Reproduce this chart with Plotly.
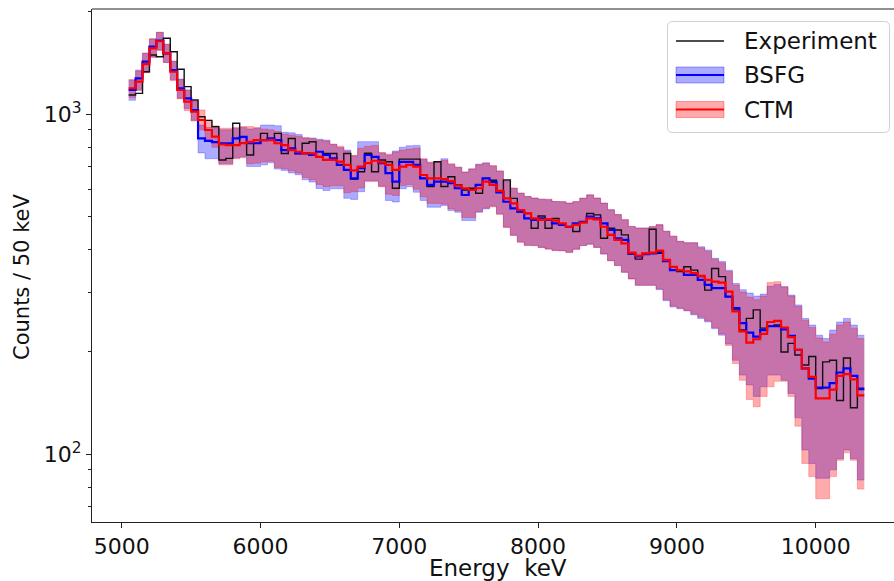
import numpy as np
import plotly.graph_objects as go

# 50 keV energy bins from 5050 to 10350 keV
bin_width = 50
energy_lo = 5050
n_bins = 106
edges = energy_lo + bin_width * np.arange(n_bins + 1)

experiment = [
    1140, 1152, 1334, 1494, 1476, 1673, 1528, 1357, 1206, 1102,
    984, 960, 919, 734, 742, 941, 822, 759, 822, 879,
    840, 879, 767, 849, 767, 822, 830, 750, 767, 767,
    726, 767, 645, 678, 768, 678, 734, 725, 606, 738,
    738, 738, 648, 613, 725, 613, 655, 620, 599, 606,
    586, 648, 640, 590, 641, 566, 517, 511, 462, 502,
    462, 494, 473, 467, 452, 483, 511, 506, 432, 462,
    457, 442, 388, 375, 390, 459, 390, 373, 356, 345,
    356, 348, 333, 304, 352, 333, 291, 266, 232, 251,
    266, 235, 238, 240, 200, 212, 196, 183, 194, 156,
    187, 189, 144, 192, 137, 155,
]

bsfg = [
    1179, 1276, 1428, 1581, 1646, 1511, 1350, 1193, 1114, 1029,
    850, 835, 828, 822, 822, 849, 858, 822, 822, 840,
    849, 840, 785, 794, 767, 767, 759, 776, 759, 742,
    710, 686, 648, 694, 759, 750, 718, 671, 634, 725,
    725, 710, 648, 620, 634, 634, 627, 606, 579, 599,
    620, 648, 632, 589, 553, 529, 517, 494, 489, 494,
    489, 478, 473, 467, 478, 483, 500, 494, 478, 457,
    432, 427, 390, 382, 388, 390, 394, 370, 348, 348,
    337, 337, 326, 315, 308, 308, 291, 269, 243, 228,
    222, 232, 238, 238, 233, 223, 203, 179, 167, 157,
    157, 162, 174, 179, 170, 156,
]

bsfg_hi = [
    1260, 1350, 1515, 1665, 1740, 1605, 1435, 1270, 1180, 1090,
    930, 915, 910, 900, 900, 910, 915, 905, 910, 930,
    930, 925, 885, 882, 872, 852, 852, 845, 840, 815,
    798, 785, 755, 831, 831, 831, 770, 758, 780, 800,
    808, 810, 738, 720, 722, 740, 712, 698, 676, 690,
    714, 720, 704, 680, 634, 606, 586, 573, 567, 563,
    561, 554, 553, 548, 553, 566, 579, 567, 548, 524,
    507, 490, 468, 463, 463, 467, 473, 453, 438, 423,
    419, 419, 408, 399, 377, 369, 348, 318, 305, 298,
    292, 296, 312, 316, 311, 294, 275, 251, 240, 224,
    219, 232, 245, 251, 240, 224,
]

bsfg_lo = [
    1100, 1180, 1330, 1475, 1545, 1420, 1265, 1115, 1040, 960,
    770, 740, 740, 715, 715, 745, 750, 702, 702, 710,
    720, 690, 684, 672, 664, 642, 632, 605, 597, 604,
    604, 566, 562, 592, 638, 638, 614, 558, 552, 604,
    612, 590, 558, 533, 533, 539, 521, 515, 487, 487,
    515, 527, 537, 510, 466, 441, 422, 412, 411, 406,
    402, 398, 397, 393, 401, 411, 415, 406, 388, 371,
    359, 343, 328, 314, 314, 314, 305, 283, 271, 268,
    264, 257, 251, 245, 234, 224, 211, 189, 171, 160,
    148, 158, 171, 171, 165, 151, 128, 103, 94, 85,
    85, 90, 97, 103, 97, 84,
]

ctm = [
    1193, 1247, 1405, 1563, 1640, 1511, 1334, 1179, 1089, 1018,
    962, 899, 860, 815, 812, 812, 822, 830, 840, 840,
    840, 822, 812, 785, 776, 767, 767, 750, 734, 734,
    726, 710, 684, 702, 718, 730, 722, 710, 686, 702,
    710, 702, 663, 648, 648, 645, 636, 617, 606, 599,
    606, 634, 620, 595, 566, 547, 523, 511, 494, 489,
    491, 487, 478, 467, 473, 480, 494, 491, 467, 442,
    427, 417, 392, 384, 390, 392, 397, 373, 356, 348,
    345, 341, 335, 326, 322, 320, 301, 263, 230, 213,
    218, 226, 245, 247, 236, 221, 203, 179, 169, 146,
    146, 155, 170, 172, 166, 149,
]

ctm_hi = [
    1265, 1340, 1510, 1670, 1745, 1610, 1430, 1265, 1175, 1095,
    1030, 960, 925, 910, 910, 915, 920, 920, 915, 905,
    900, 890, 875, 868, 862, 854, 848, 840, 834, 818,
    806, 778, 758, 795, 805, 810, 772, 764, 775, 785,
    790, 795, 740, 724, 724, 732, 716, 700, 677, 692,
    710, 718, 707, 682, 636, 607, 587, 574, 567, 563,
    563, 554, 554, 548, 554, 567, 580, 567, 548, 524,
    507, 490, 468, 463, 463, 468, 474, 453, 438, 423,
    419, 419, 405, 395, 375, 366, 345, 315, 300, 290,
    285, 292, 320, 322, 311, 292, 272, 248, 236, 220,
    214, 226, 240, 245, 235, 219,
]

ctm_lo = [
    1120, 1175, 1325, 1470, 1540, 1420, 1255, 1110, 1025, 955,
    900, 840, 800, 710, 710, 740, 745, 715, 718, 725,
    728, 698, 692, 682, 672, 652, 642, 622, 612, 616,
    616, 588, 592, 607, 634, 634, 612, 582, 577, 617,
    622, 602, 572, 547, 547, 544, 527, 520, 497, 497,
    517, 530, 534, 507, 464, 440, 420, 411, 411, 406,
    401, 397, 397, 392, 401, 411, 415, 406, 388, 371,
    359, 343, 328, 314, 314, 314, 307, 285, 273, 269,
    265, 259, 253, 247, 236, 226, 209, 185, 165, 145,
    138, 148, 158, 164, 164, 148, 121, 94, 86, 74,
    74, 86, 96, 101, 96, 79,
]

x_ticks = [5000, 6000, 7000, 8000, 9000, 10000]
x_tick_text = ["5000", "6000", "7000", "8000", "9000", "10000"]
y_ticks = [100, 1000]
y_tick_text = ["10<sup>2</sup>", "10<sup>3</sup>"]
y_minor = [70, 80, 90, 200, 300, 400, 500, 600, 700, 800, 900, 2000]

FONT = "DejaVu Sans"
BLUE_FILL = "rgba(0,0,255,0.33)"
RED_FILL = "rgba(255,0,0,0.33)"


def stairs(values):
    # repeat the last bin so the 'hv' step closes at the upper edge
    return list(values) + [values[-1]]


fig = go.Figure()

for lo, hi, fill in ((bsfg_lo, bsfg_hi, BLUE_FILL), (ctm_lo, ctm_hi, RED_FILL)):
    fig.add_trace(go.Scatter(x=edges, y=stairs(lo), mode="lines",
                             line=dict(shape="hv", width=0.8, color=fill),
                             hoverinfo="skip", showlegend=False))
    fig.add_trace(go.Scatter(x=edges, y=stairs(hi), mode="lines",
                             line=dict(shape="hv", width=0.8, color=fill),
                             fill="tonexty", fillcolor=fill,
                             hoverinfo="skip", showlegend=False))

fig.add_trace(go.Scatter(x=edges, y=stairs(experiment), mode="lines",
                         line=dict(shape="hv", width=1.4, color="#111111"),
                         name="Experiment", showlegend=False))
fig.add_trace(go.Scatter(x=edges, y=stairs(bsfg), mode="lines",
                         line=dict(shape="hv", width=2.2, color="#0000ff"),
                         name="BSFG", showlegend=False))
fig.add_trace(go.Scatter(x=edges, y=stairs(ctm), mode="lines",
                         line=dict(shape="hv", width=2.2, color="#ff0000"),
                         name="CTM", showlegend=False))

# plot area geometry in pixels
W, H = 894, 581
L, R, T, B = 92, 0, 9, 59
PW, PH = W - L - R, H - T - B


def px(x):
    return (x - L) / PW


def py(y):
    return (H - B - y) / PH


shapes = [
    # top spine
    dict(type="line", xref="paper", yref="paper", x0=0, x1=1, y0=1, y1=1,
         line=dict(color="#222222", width=1.1)),
]

# hand-drawn legend box with rounded corners
lx0, lx1, ly0, ly1, r = 667.5, 889.5, 21.5, 132.5, 5
path = (f"M {px(lx0 + r)},{py(ly0)} L {px(lx1 - r)},{py(ly0)} "
        f"Q {px(lx1)},{py(ly0)} {px(lx1)},{py(ly0 + r)} "
        f"L {px(lx1)},{py(ly1 - r)} Q {px(lx1)},{py(ly1)} {px(lx1 - r)},{py(ly1)} "
        f"L {px(lx0 + r)},{py(ly1)} Q {px(lx0)},{py(ly1)} {px(lx0)},{py(ly1 - r)} "
        f"L {px(lx0)},{py(ly0 + r)} Q {px(lx0)},{py(ly0)} {px(lx0 + r)},{py(ly0)} Z")
shapes.append(dict(type="path", xref="paper", yref="paper", path=path,
                   fillcolor="rgba(255,255,255,0.8)",
                   line=dict(color="#d0d0d0", width=1)))

hx0, hx1 = 676, 724
shapes.append(dict(type="line", xref="paper", yref="paper",
                   x0=px(hx0), x1=px(hx1), y0=py(41), y1=py(41),
                   line=dict(color="#111111", width=1.4)))
for yc, fill, col in ((75, BLUE_FILL, "#0000ff"), (109.5, RED_FILL, "#ff0000")):
    shapes.append(dict(type="rect", xref="paper", yref="paper",
                       x0=px(hx0), x1=px(hx1), y0=py(yc - 8), y1=py(yc + 8),
                       fillcolor=fill, line=dict(color=fill, width=1)))
    shapes.append(dict(type="line", xref="paper", yref="paper",
                       x0=px(hx0), x1=px(hx1), y0=py(yc), y1=py(yc),
                       line=dict(color=col, width=2)))

annotations = []
for label, yc in (("Experiment", 41), ("BSFG", 75), ("CTM", 109.5)):
    annotations.append(dict(text=label, xref="paper", yref="paper",
                            x=px(742), y=py(yc), xanchor="left", yanchor="middle",
                            showarrow=False,
                            font=dict(family=FONT, size=23, color="#111111")))

annotations.append(dict(text="Energy  keV", xref="paper", yref="paper",
                        x=px(498), y=py(568), xanchor="center", yanchor="middle",
                        showarrow=False, font=dict(family=FONT, size=23, color="#111111")))
annotations.append(dict(text="Counts / 50 keV", xref="paper", yref="paper",
                        x=px(22), y=py(277), xanchor="center", yanchor="middle",
                        textangle=-90, showarrow=False,
                        font=dict(family=FONT, size=21, color="#111111")))

fig.update_layout(
    width=W, height=H,
    margin=dict(l=L, r=R, t=T, b=B, pad=0),
    paper_bgcolor="white", plot_bgcolor="white",
    showlegend=False,
    shapes=shapes, annotations=annotations,
    font=dict(family=FONT, size=22, color="#111111"),
)

fig.update_xaxes(
    range=[4786, 10564], tickvals=x_ticks, ticktext=x_tick_text,
    ticks="outside", ticklen=5,
    tickwidth=1.1, tickcolor="#222222", showline=True, linecolor="#222222",
    linewidth=1.1, showgrid=False, zeroline=False,
    tickfont=dict(family=FONT, size=22, color="#111111"),
)
fig.update_yaxes(
    type="log", range=[1.8009, 3.3097], tickvals=y_ticks, ticktext=y_tick_text,
    ticks="outside", ticklen=5, tickwidth=1.1, tickcolor="#222222",
    showline=True, linecolor="#222222", linewidth=1.1, showgrid=False,
    zeroline=False, tickfont=dict(family=FONT, size=22, color="#111111"),
    minor=dict(tickvals=y_minor, ticks="outside", ticklen=3, tickwidth=0.9,
               tickcolor="#222222", showgrid=False),
)

fig.write_html("out.html")
